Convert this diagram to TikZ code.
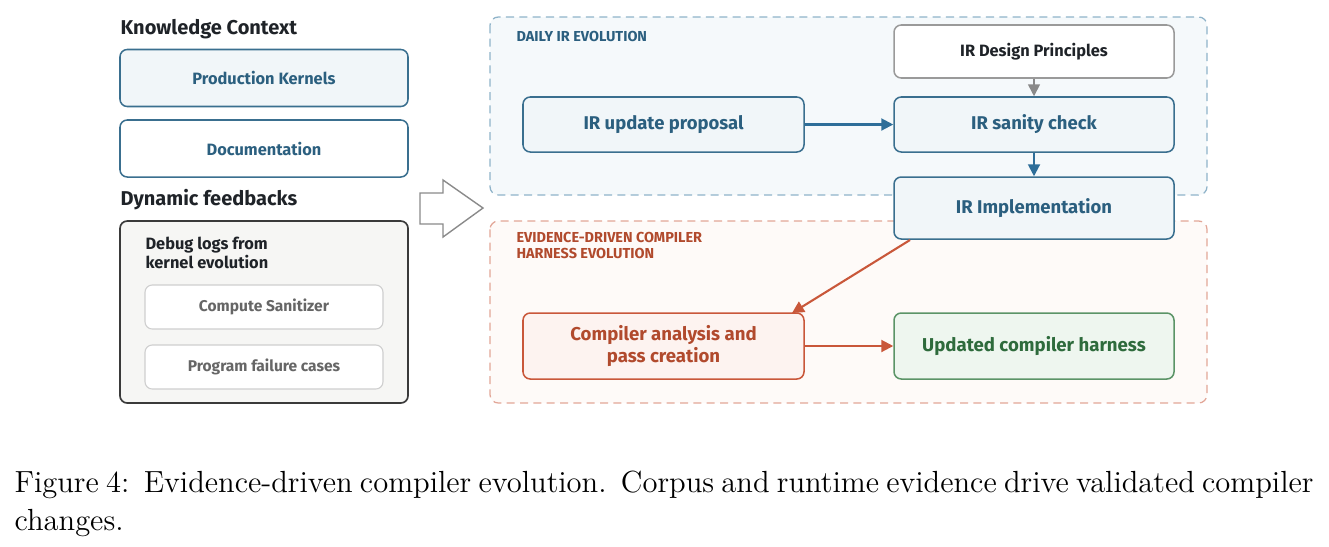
\documentclass[tikz,border=0pt]{standalone}
\usepackage{fontspec}
\newfontfamily\df{Fira Sans}
\usetikzlibrary{arrows.meta}
\def\pxu{0.36pt}
\definecolor{ttl}{HTML}{1F2328}
\definecolor{bstroke}{HTML}{3A6F8F}
\definecolor{btext}{HTML}{2B5F7F}
\definecolor{bfill}{HTML}{F1F6F9}
\definecolor{barrow}{HTML}{2E6E99}
\definecolor{rblue}{HTML}{8FB3C9}
\definecolor{rbluefill}{HTML}{F5F9FB}
\definecolor{rorange}{HTML}{E2A697}
\definecolor{rorangefill}{HTML}{FEFAF8}
\definecolor{ostroke}{HTML}{C9573A}
\definecolor{ofill}{HTML}{FDF3F0}
\definecolor{otext}{HTML}{B14A2D}
\definecolor{oarrow}{HTML}{C9573A}
\definecolor{gstroke}{HTML}{5B9467}
\definecolor{gfill}{HTML}{EEF6EF}
\definecolor{gtext}{HTML}{2E6B3C}
\definecolor{graystroke}{HTML}{9A9A9A}
\definecolor{grayarrow}{HTML}{8A8A8A}
\definecolor{dbstroke}{HTML}{3A3A3A}
\definecolor{dbfill}{HTML}{F6F6F4}
\definecolor{ltgray}{HTML}{CFCFCF}
\definecolor{gtxt}{HTML}{666666}
\begin{document}
\begin{tikzpicture}[x=0.36pt,y=-0.36pt,
  every node/.style={inner sep=0pt},
  title/.style={font=\df\bfseries\fontsize{7.2}{8.4}\selectfont, text=ttl, anchor=west},
  box/.style={draw, rounded corners=2.6pt, line width=0.55pt},
  bluebox/.style={box, draw=bstroke, fill=bfill, text=btext, font=\df\bfseries\fontsize{5.9}{7}\selectfont},
  bigblue/.style={box, draw=bstroke, fill=bfill, text=btext, font=\df\bfseries\fontsize{6.65}{8}\selectfont},
  whitebox/.style={box, draw=graystroke, fill=white, text=ttl, font=\df\bfseries\fontsize{5.9}{7}\selectfont},
  orangebox/.style={box, draw=ostroke, fill=ofill, text=otext, align=center, font=\df\bfseries\fontsize{6.7}{7.6}\selectfont},
  greenbox/.style={box, draw=gstroke, fill=gfill, text=gtext, font=\df\bfseries\fontsize{6.7}{8}\selectfont},
  subbox/.style={box, draw=ltgray, fill=white, text=gtxt, line width=0.4pt, font=\df\bfseries\fontsize{5.6}{6.6}\selectfont},
  region/.style={rounded corners=3pt, line width=0.45pt, dash pattern=on 2.9pt off 1.9pt},
  rlabel/.style={anchor=west, font=\df\bfseries\fontsize{5.2}{5.5}\selectfont, align=left},
  arr/.style={line width=0.75pt, -{Triangle[length=4.3pt,width=4.3pt]}},
]
\useasboundingbox (0,0) rectangle (1329,546);
% regions
\draw[region, draw=rblue, fill=rbluefill] (490,17) rectangle (1207,195);
\draw[region, draw=rorange, fill=rorangefill] (490,221) rectangle (1207,403);
\node[rlabel, text=btext] (lab1) at (516,36) {DAILY IR EVOLUTION};
\node[rlabel, text=otext, anchor=north west] (lab2) at (516,232) {EVIDENCE-DRIVEN COMPILER\\HARNESS EVOLUTION};
% left column
\node[title] (kc) at (120,29) {Knowledge Context};
\node[bluebox, minimum width=288*\pxu, minimum height=57*\pxu] (pk) at (264,78) {Production Kernels};
\node[bluebox, fill=white, minimum width=288*\pxu, minimum height=57*\pxu] (doc) at (264,148.5) {Documentation};
\node[title] (df) at (120,200) {Dynamic feedbacks};
\node[box, draw=dbstroke, fill=dbfill, minimum width=288*\pxu, minimum height=182*\pxu, line width=0.6pt] (dbg) at (264,312) {};
\node[anchor=north west, text=ttl, align=left, font=\df\bfseries\fontsize{5.9}{7.0}\selectfont] (dbt) at (145,236) {Debug logs from\\kernel evolution};
\node[subbox, minimum width=238*\pxu, minimum height=44*\pxu] (cs) at (264,307) {Compute Sanitizer};
\node[subbox, minimum width=238*\pxu, minimum height=44*\pxu] (pf) at (264,367) {Program failure cases};
% hollow arrow
\draw[line width=0.5pt, draw=grayarrow, fill=white] (420,193) -- (443,193) -- (443,180) -- (483,208) -- (443,237) -- (443,224) -- (420,224) -- cycle;
% right nodes
\node[whitebox, minimum width=280*\pxu, minimum height=53*\pxu] (dp) at (1034,51.5) {IR Design Principles};
\node[bigblue, minimum width=281*\pxu, minimum height=55*\pxu] (up) at (663.5,124.5) {IR update proposal};
\node[bigblue, minimum width=280*\pxu, minimum height=55*\pxu] (sc) at (1034,124.5) {IR sanity check};
\node[bigblue, minimum width=280*\pxu, minimum height=62*\pxu] (im) at (1034,208) {IR Implementation};
\node[orangebox, minimum width=281*\pxu, minimum height=66*\pxu] (ca) at (663.5,346) {Compiler analysis and\\pass creation};
\node[greenbox, minimum width=280*\pxu, minimum height=66*\pxu] (uh) at (1034,346) {Updated compiler harness};
% arrows
\draw[arr, draw=barrow, fill=barrow] (up.east) -- (sc.west);
\draw[arr, draw=grayarrow, fill=grayarrow, line width=0.6pt] (dp.south) -- (sc.north);
\draw[arr, draw=barrow, fill=barrow] (sc.south) -- (im.north);
\coordinate (imo) at (910,240);
\coordinate (cai) at (792,313);
\draw[arr, draw=oarrow, fill=oarrow] (imo) -- (cai);
\draw[arr, draw=oarrow, fill=oarrow] (ca.east) -- (uh.west);
% caption
\node[anchor=north west, text width=1299*\pxu, align=justify, font=\fontsize{11}{13.6}\selectfont] (cap) at (14,470.5) {Figure 4:\ \ Evidence-driven compiler evolution.\ \ Corpus and runtime evidence drive validated compiler changes.};
\end{tikzpicture}
\end{document}
